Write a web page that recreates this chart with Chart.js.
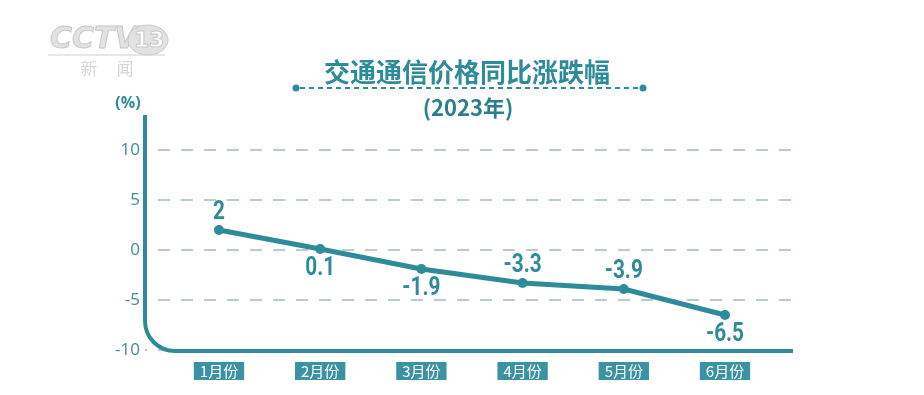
<!DOCTYPE html>
<html>
<head>
<meta charset="utf-8">
<style>
  html, body { margin: 0; padding: 0; background: #fff; }
  #wrap { width: 924px; height: 395px; position: relative; }
</style>
<script src="https://cdn.jsdelivr.net/npm/chart.js@4"></script>
</head>
<body>
<div id="wrap"><canvas id="c" width="924" height="395"></canvas></div>
<script>
  // 交通通信价格同比涨跌幅 (2023年)
  const months = ['1月份', '2月份', '3月份', '4月份', '5月份', '6月份'];
  const values = [2, 0.1, -1.9, -3.3, -3.9, -6.5];
  const yTicks = [-10, -5, 0, 5, 10];
  const labelSide = ['up', 'down', 'down', 'up', 'up', 'down'];

  const teal = '#2e8b99';
  const cjk = '"Noto Sans CJK SC", "Noto Sans", sans-serif';

  // 轴线（左侧竖线 + 圆角 + 底部横线）
  const frame = {
    id: 'frame',
    beforeDatasetsDraw(chart) {
      const { ctx, chartArea: a, scales: { y } } = chart;
      const bottom = y.getPixelForValue(-10) + 1;
      const r = 30;
      ctx.save();
      ctx.strokeStyle = teal;
      ctx.lineWidth = 4;
      ctx.beginPath();
      ctx.moveTo(a.left, a.top);
      ctx.lineTo(a.left, bottom - r);
      ctx.arcTo(a.left, bottom, a.left + r, bottom, r);
      ctx.lineTo(a.right, bottom);
      ctx.stroke();
      ctx.restore();
    }
  };

  // 数值标签（窄体效果用横向缩放）
  const valueLabels = {
    id: 'valueLabels',
    afterDatasetsDraw(chart) {
      const { ctx } = chart;
      const pts = chart.getDatasetMeta(0).data;
      ctx.save();
      ctx.fillStyle = teal;
      ctx.font = 'bold 26px Roboto, sans-serif';
      ctx.textAlign = 'center';
      ctx.textBaseline = 'middle';
      pts.forEach((p, i) => {
        const dy = labelSide[i] === 'up' ? -18 : 19;
        ctx.save();
        ctx.translate(p.x, p.y + dy);
        ctx.scale(0.8, 1);
        ctx.fillText(String(values[i]), 0, 0);
        ctx.restore();
      });
      ctx.restore();
    }
  };

  // 标题、单位、台标
  const decor = {
    id: 'decor',
    afterDraw(chart) {
      const { ctx } = chart;
      ctx.save();
      ctx.textAlign = 'center';
      ctx.textBaseline = 'middle';
      ctx.fillStyle = teal;
      ctx.font = 'bold 26px ' + cjk;
      ctx.fillText('交通通信价格同比涨跌幅', 467, 72);
      ctx.font = 'bold 22px ' + cjk;
      ctx.fillStyle = '#2a7f8c';
      ctx.fillText('(2023年)', 468, 108);
      ctx.font = 'bold 16px "Open Sans", sans-serif';
      ctx.fillStyle = teal;
      ctx.fillText('(%)', 128, 103);

      ctx.strokeStyle = teal;
      ctx.lineWidth = 2;
      ctx.setLineDash([5, 4]);
      ctx.beginPath();
      ctx.moveTo(300, 88);
      ctx.lineTo(640, 88);
      ctx.stroke();
      ctx.setLineDash([]);
      ctx.fillStyle = teal;
      [296, 643].forEach(x => { ctx.beginPath(); ctx.arc(x, 88, 3.5, 0, Math.PI * 2); ctx.fill(); });

      // CCTV 13 新闻 台标
      ctx.fillStyle = '#e2e2e2';
      ctx.strokeStyle = '#c8c8c8';
      ctx.lineWidth = 1;
      ctx.font = 'italic bold 30px "DejaVu Sans", sans-serif';
      ctx.textAlign = 'left';
      ctx.fillText('CCTV', 50, 40);
      ctx.strokeText('CCTV', 50, 40);
      ctx.beginPath();
      ctx.ellipse(148, 40, 20, 15, 0, 0, Math.PI * 2);
      ctx.fill();
      ctx.stroke();
      ctx.fillStyle = '#ffffff';
      ctx.font = 'bold 22px "DejaVu Sans", sans-serif';
      ctx.textAlign = 'center';
      ctx.fillText('13', 149, 41);
      ctx.strokeText('13', 149, 41);
      ctx.strokeStyle = '#cfcfcf';
      ctx.beginPath();
      ctx.moveTo(48, 55);
      ctx.lineTo(165, 55);
      ctx.stroke();
      ctx.fillStyle = '#d6d6d6';
      ctx.font = '17px ' + cjk;
      ctx.fillText('新', 89, 69);
      ctx.fillText('闻', 125, 69);
      ctx.restore();
    }
  };

  new Chart(document.getElementById('c').getContext('2d'), {
    type: 'line',
    data: {
      datasets: [{
        data: values.map((v, i) => ({ x: i, y: v })),
        borderColor: teal,
        backgroundColor: teal,
        borderWidth: 5,
        pointRadius: 5,
        pointBorderWidth: 0,
        pointHoverRadius: 5,
        tension: 0
      }]
    },
    options: {
      responsive: false,
      animation: false,
      layout: { padding: { left: 105, right: 131, top: 115, bottom: 0 } },
      plugins: { legend: { display: false }, tooltip: { enabled: false } },
      scales: {
        x: {
          type: 'linear',
          min: -0.731,
          max: 5.672,
          afterBuildTicks: s => { s.ticks = months.map((m, i) => ({ value: i })); },
          afterFit: s => { s.height = 45; },
          grid: { display: false },
          border: { display: false },
          ticks: {
            autoSkip: false,
            maxRotation: 0,
            callback: v => months[v],
            color: '#ffffff',
            font: { family: '"Noto Sans CJK SC", sans-serif', size: 15 },
            padding: 4,
            showLabelBackdrop: true,
            backdropColor: '#3a93a2',
            backdropPadding: { left: 6, right: 6, top: 0, bottom: 0 }
          }
        },
        y: {
          min: -10,
          max: 13.5,
          afterBuildTicks: s => { s.ticks = yTicks.map(v => ({ value: v })); },
          afterFit: s => { s.width = 40; },
          grid: { color: '#b9cbcf', lineWidth: 2, drawTicks: false },
          border: { display: false, dash: [12, 11], dashOffset: 10 },
          ticks: {
            color: '#3e8c98',
            font: { family: '"Open Sans", sans-serif', size: 17 },
            padding: 5
          }
        }
      }
    },
    plugins: [frame, valueLabels, decor]
  });
</script>
</body>
</html>
